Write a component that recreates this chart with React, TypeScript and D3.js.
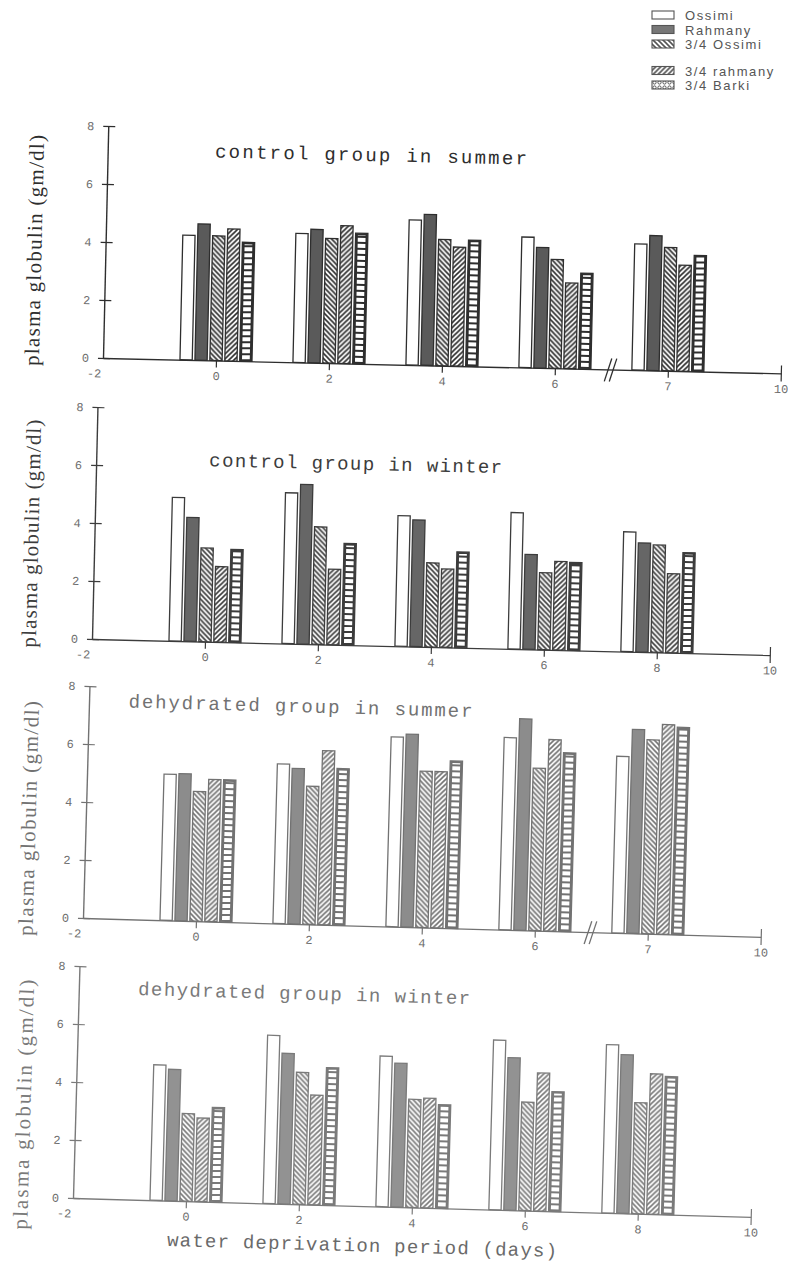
import { useEffect, useRef } from 'react';
import * as d3 from 'd3';

// breeds (legend order)
const SERIES = ['Ossimi', 'Rahmany', '3/4 Ossimi', '3/4 rahmany', '3/4 Barki'];
// groups sit on these x positions (days of water deprivation)
const DAYS = [0, 2, 4, 6, 8];
const X_TICKS = [-2, 0, 2, 4, 6, 8, 10];
const Y_TICKS = [0, 2, 4, 6, 8];
const X_LABELS = ['-2', '0', '2', '4', '6', '8', '10'];
// summer panels: broken axis, last group relabelled 7
const X_LABELS_BROKEN = ['-2', '0', '2', '4', '6', '7', '10'];

// plasma globulin, gm/dl — rows = DAYS, columns = SERIES
const CONTROL_SUMMER = [
  [4.3, 4.7, 4.3, 4.55, 4.1],
  [4.45, 4.6, 4.3, 4.75, 4.5],
  [5.0, 5.2, 4.35, 4.1, 4.35],
  [4.5, 4.15, 3.75, 2.95, 3.3],
  [4.35, 4.65, 4.25, 3.65, 4.0],
];
const CONTROL_WINTER = [
  [4.95, 4.27, 3.23, 2.6, 3.2],
  [5.2, 5.5, 4.05, 2.6, 3.5],
  [4.5, 4.37, 2.9, 2.7, 3.3],
  [4.7, 3.27, 2.65, 3.05, 3.03],
  [4.13, 3.76, 3.7, 2.72, 3.46],
];
const DEHYD_SUMMER = [
  [5.04, 5.07, 4.47, 4.9, 4.9],
  [5.5, 5.36, 4.76, 6.0, 5.4],
  [6.54, 6.65, 5.39, 5.39, 5.77],
  [6.63, 7.29, 5.6, 6.6, 6.16],
  [6.09, 7.03, 6.69, 7.23, 7.15],
];
const DEHYD_WINTER = [
  [4.67, 4.53, 3.02, 2.88, 3.26],
  [5.8, 5.19, 4.55, 3.78, 4.74],
  [5.19, 4.96, 3.73, 3.78, 3.57],
  [5.85, 5.26, 3.74, 4.76, 4.13],
  [5.8, 5.47, 3.83, 4.84, 4.76],
];

const TITLES = [
  'control group in summer',
  'control group in winter',
  'dehydrated group in summer',
  'dehydrated group in winter',
];
const Y_LABEL = 'plasma globulin (gm/dl)';
const X_TITLE = 'water deprivation period (days)';

const W = 788;
const H = 1283;
const PANEL_W = 678;
const PANEL_H = 232;
const MONO = '"Liberation Mono", "DejaVu Sans Mono", monospace';
const SERIF = '"Liberation Serif", "DejaVu Serif", serif';
const SANS = '"Liberation Sans", "DejaVu Sans", sans-serif';

// the scan is slightly rotated and fades towards the bottom
const LAYOUT = [
  { values: CONTROL_SUMMER, labels: X_LABELS_BROKEN, brk: true, ox: 103, oy: 358, tilt: 1.3, ink: '#2e2e2e', grey: '#5a5a5a', title: [-0.1, 7.0, 312], ylab: [-64, -106, 231] },
  { values: CONTROL_WINTER, labels: X_LABELS, brk: false, ox: 92, oy: 639, tilt: 1.35, ink: '#3c3c3c', grey: '#666', title: [0.0, 6.05, 293], ylab: [-56, -104, 228] },
  { values: DEHYD_SUMMER, labels: X_LABELS_BROKEN, brk: true, ox: 83, oy: 918, tilt: 1.6, ink: '#727272', grey: '#8c8c8c', title: [-1.3, 7.3, 344], ylab: [-50, -98, 235] },
  { values: DEHYD_WINTER, labels: X_LABELS, brk: false, ox: 73, oy: 1198, tilt: 1.6, ink: '#7a7a7a', grey: '#929292', title: [-0.95, 7.06, 332], ylab: [-45, -92, 250] },
];

function makePatterns(defs: any, id: string, ink: string) {
  const hatch = (name: string, d: string) => {
    const p = defs.append('pattern').attr('id', `${name}-${id}`)
      .attr('patternUnits', 'userSpaceOnUse').attr('width', 5).attr('height', 5);
    p.append('rect').attr('width', 5).attr('height', 5).attr('fill', '#fff');
    p.append('path').attr('d', d).attr('stroke', ink).attr('stroke-width', 1.6).attr('fill', 'none');
  };
  hatch('back', 'M0,0L5,5M4,-1L6,1M-1,4L1,6');
  hatch('fwd', 'M0,5L5,0M-1,1L1,-1M4,6L6,4');
  const dots = defs.append('pattern').attr('id', `dots-${id}`)
    .attr('patternUnits', 'userSpaceOnUse').attr('width', 5).attr('height', 5);
  dots.append('rect').attr('width', 5).attr('height', 5).attr('fill', '#fff');
  dots.append('circle').attr('cx', 2.5).attr('cy', 2.5).attr('r', 1.6).attr('fill', 'none').attr('stroke', ink).attr('stroke-width', 1);
}

export default function App() {
  const svgRef = useRef<SVGSVGElement>(null);

  useEffect(() => {
    if (!svgRef.current) return;
    const svg = d3.select(svgRef.current);
    svg.selectAll('*').remove();
    const defs = svg.append('defs');

    const x = d3.scaleLinear().domain([-2, 10]).range([0, PANEL_W]);
    const y = d3.scaleLinear().domain([0, 8]).range([0, -PANEL_H]);
    const band = d3.scaleBand<string>().domain(SERIES).range([-36, 36]).paddingInner(0.18);

    LAYOUT.forEach((p, k) => {
      const id = `p${k}`;
      makePatterns(defs, id, p.ink);
      const fills = ['#fff', p.grey, `url(#back-${id})`, `url(#fwd-${id})`, p.ink];

      const g = svg.append('g').attr('transform', `translate(${p.ox},${p.oy}) rotate(${p.tilt})`);

      // x axis
      const xa = g.append('g')
        .call(d3.axisBottom(x).tickValues(X_TICKS).tickFormat((_d, i) => p.labels[i]).tickSize(7).tickSizeOuter(0).tickPadding(4))
        .attr('font-family', MONO).attr('font-size', 12);
      xa.select('.domain').attr('stroke', p.ink).attr('stroke-width', 1.3);
      xa.selectAll('.tick line').attr('stroke', p.ink).attr('stroke-width', 1.2);
      xa.selectAll('.tick text').attr('fill', '#555').attr('opacity', 0.85);
      xa.selectAll('.tick').filter((d: any) => d === -2).select('line').remove();
      xa.selectAll('.tick').filter((d: any) => d === -2).select('text').attr('dx', -9);
      xa.selectAll('.tick').filter((d: any) => d === 10).select('line').attr('y1', -8).attr('y2', 8);

      if (p.brk) {
        const bx = x(6.95);
        [0, 5].forEach((o) => {
          g.append('line')
            .attr('x1', bx - 4 + o).attr('y1', 12).attr('x2', bx + 3 + o).attr('y2', -11)
            .attr('stroke', p.ink).attr('stroke-width', 1.3);
        });
      }

      // y axis, ticks crossing the line
      const ya = g.append('g')
        .call(d3.axisLeft(y).tickValues(Y_TICKS).tickSize(5).tickSizeOuter(0).tickPadding(9))
        .attr('font-family', MONO).attr('font-size', 12);
      ya.select('.domain').attr('stroke', p.ink).attr('stroke-width', 1.4);
      ya.selectAll('.tick line').attr('x1', 7).attr('stroke', p.ink).attr('stroke-width', 1.2);
      ya.selectAll('.tick text').attr('fill', '#555').attr('opacity', 0.85);

      // bars
      const rows = p.values.flatMap((row, i) => row.map((v, j) => ({ day: DAYS[i], s: SERIES[j], j, v })));
      const bars = g.append('g');
      bars.selectAll('rect').data(rows).join('rect')
        .attr('x', (d) => x(d.day) + (band(d.s) as number))
        .attr('y', (d) => y(d.v))
        .attr('width', band.bandwidth())
        .attr('height', (d) => y(0) - y(d.v))
        .attr('fill', (d) => fills[d.j])
        .attr('stroke', p.ink)
        .attr('stroke-width', 1.3);
      // 3/4 Barki: chain of light links
      bars.selectAll('line').data(rows.filter((d) => d.j === 4)).join('line')
        .attr('x1', (d) => x(d.day) + (band(d.s) as number) + band.bandwidth() / 2)
        .attr('x2', (d) => x(d.day) + (band(d.s) as number) + band.bandwidth() / 2)
        .attr('y1', -2)
        .attr('y2', (d) => y(d.v) + 2)
        .attr('stroke', '#fff')
        .attr('stroke-width', band.bandwidth() - 4.5)
        .attr('stroke-dasharray', '4 2');

      // title
      g.append('text')
        .attr('x', x(p.title[0])).attr('y', y(p.title[1]))
        .attr('font-family', MONO).attr('font-size', 19)
        .attr('textLength', p.title[2]).attr('lengthAdjust', 'spacing')
        .attr('fill', p.ink)
        .text(TITLES[k]);

      // y label
      g.append('text')
        .attr('transform', `translate(${p.ylab[0]},${p.ylab[1]}) rotate(-90)`)
        .attr('text-anchor', 'middle')
        .attr('font-family', SERIF).attr('font-size', 21)
        .attr('textLength', p.ylab[2]).attr('lengthAdjust', 'spacing')
        .attr('fill', p.ink)
        .text(Y_LABEL);
    });

    // x title
    svg.append('text')
      .attr('transform', 'translate(167,1246) rotate(1.6)')
      .attr('font-family', MONO).attr('font-size', 19)
      .attr('textLength', 390).attr('lengthAdjust', 'spacing')
      .attr('fill', '#6a6a6a')
      .text(X_TITLE);

    // legend
    const lid = 'lg';
    const lgInk = '#555';
    makePatterns(defs, lid, lgInk);
    const lgFills = ['#fff', '#777', `url(#back-${lid})`, `url(#fwd-${lid})`, `url(#dots-${lid})`];
    const lg = svg.append('g').attr('transform', 'translate(652,0)');
    const item = lg.selectAll('g').data(SERIES).join('g')
      .attr('transform', (_d, i) => `translate(0,${15 + i * 14.5 + (i >= 3 ? 12 : 0)})`);
    item.append('rect')
      .attr('x', 0).attr('y', -4).attr('width', 22).attr('height', 8)
      .attr('fill', (_d, i) => lgFills[i]).attr('stroke', lgInk).attr('stroke-width', 1.1);
    item.append('text')
      .attr('x', 33).attr('y', 5)
      .attr('font-family', SANS).attr('font-size', 13).attr('letter-spacing', 1.6)
      .attr('fill', lgInk)
      .text((d) => d);
  }, []);

  return (
    <svg
      ref={svgRef}
      width={W}
      height={H}
      style={{ position: 'absolute', left: 0, top: 0, display: 'block', background: '#fff' }}
    />
  );
}
